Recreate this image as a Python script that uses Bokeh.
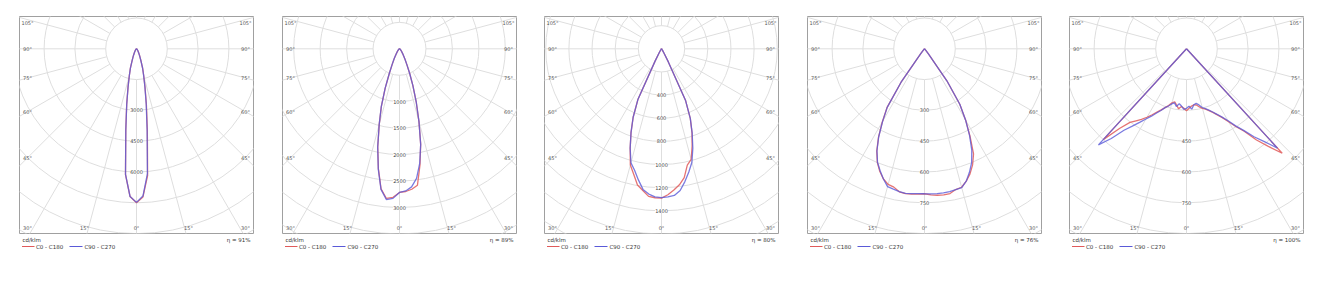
import numpy as np
from bokeh.plotting import figure
from bokeh.layouts import row, column
from bokeh.models import Range1d
from bokeh.embed import file_html
from bokeh.resources import INLINE
from bokeh.core.properties import value

# ---------------- data ----------------
gamma = [0, 2.5, 5, 7.5, 10, 12.5, 15, 17.5, 20, 22.5, 25, 27.5, 30, 32.5, 35, 37.5, 40, 42.5,
         45, 47.5, 50, 52.5, 55, 57.5, 60, 62.5, 65, 67.5, 70, 72.5, 75, 77.5, 80, 82.5, 85, 87.5, 90]

# panel 1
p1_c0 = [7500, 7220, 6200, 4050, 2780, 1920, 1360, 1000, 660, 460, 335, 245, 185, 145, 115, 92, 75, 62,
         52, 44, 37, 31, 26, 22, 19, 16, 13, 11, 9, 7, 6, 5, 4, 3, 2, 1, 0]
p1_c180 = [7500, 7200, 6150, 4000, 2750, 1900, 1350, 990, 650, 455, 330, 242, 182, 143, 113, 91, 74, 61,
           52, 44, 37, 31, 26, 22, 19, 16, 13, 11, 9, 7, 6, 5, 4, 3, 2, 1, 0]
p1_c90 = [7480, 7180, 6100, 3960, 2720, 1880, 1340, 980, 645, 450, 328, 240, 180, 142, 112, 90, 73, 60,
          51, 43, 36, 30, 25, 21, 18, 15, 12, 10, 8, 7, 6, 5, 4, 3, 2, 1, 0]
p1_c270 = [7480, 7200, 6140, 3990, 2740, 1890, 1345, 985, 648, 452, 330, 241, 181, 142, 112, 90, 73, 60,
           51, 43, 36, 30, 25, 21, 18, 15, 12, 10, 8, 7, 6, 5, 4, 3, 2, 1, 0]

# panel 2
p2_c0 = [2716, 2700, 2665, 2600, 2230, 1850, 1420, 1050, 740, 500, 330, 230, 160, 118, 88, 68, 53, 42,
         34, 28, 23, 19, 16, 13, 11, 9, 8, 7, 6, 5, 4, 3, 3, 2, 1, 1, 0]
p2_c180 = [2716, 2810, 2840, 2670, 2300, 1900, 1480, 1140, 790, 500, 330, 230, 160, 118, 88, 68, 53, 42,
           34, 28, 23, 19, 16, 13, 11, 9, 8, 7, 6, 5, 4, 3, 3, 2, 1, 1, 0]
p2_c90 = [2716, 2690, 2620, 2470, 2200, 1850, 1420, 1050, 740, 500, 330, 232, 162, 119, 89, 69, 54, 43,
          35, 29, 24, 20, 16, 13, 11, 9, 8, 7, 6, 5, 4, 3, 3, 2, 1, 1, 0]
p2_c270 = [2716, 2830, 2860, 2680, 2310, 1905, 1485, 1145, 795, 505, 335, 235, 165, 120, 90, 70, 55, 44,
           35, 29, 24, 20, 16, 13, 11, 9, 8, 7, 6, 5, 4, 3, 3, 2, 1, 1, 0]

# panel 3
p3_c0 = [1290, 1262, 1225, 1185, 1130, 1030, 990, 880, 770, 650, 490, 130, 42, 21, 12, 8, 6, 5,
         4, 3, 3, 2, 2, 2, 1, 1, 1, 1, 1, 0, 0, 0, 0, 0, 0, 0, 0]
p3_c180 = [1290, 1288, 1280, 1235, 1195, 1110, 1040, 900, 770, 640, 480, 120, 40, 20, 12, 8, 6, 5,
           4, 3, 3, 2, 2, 2, 1, 1, 1, 1, 1, 0, 0, 0, 0, 0, 0, 0, 0]
p3_c90 = [1285, 1280, 1272, 1235, 1165, 1090, 1015, 900, 775, 650, 490, 130, 42, 21, 12, 8, 6, 5,
          4, 3, 3, 2, 2, 2, 1, 1, 1, 1, 1, 0, 0, 0, 0, 0, 0, 0, 0]
p3_c270 = [1285, 1280, 1260, 1225, 1150, 1075, 1020, 900, 770, 640, 480, 120, 40, 20, 12, 8, 6, 5,
           4, 3, 3, 2, 2, 2, 1, 1, 1, 1, 1, 0, 0, 0, 0, 0, 0, 0, 0]

# panel 4
p4_c0 = [706, 712, 716, 718, 716, 702, 698, 676, 648, 612, 565, 480, 400, 320, 190, 30, 10, 5,
         3, 2, 1, 1, 1, 0, 0, 0, 0, 0, 0, 0, 0, 0, 0, 0, 0, 0, 0]
p4_c180 = [706, 708, 710, 711, 707, 690, 684, 665, 636, 600, 550, 485, 410, 340, 200, 30, 10, 5,
           3, 2, 1, 1, 1, 0, 0, 0, 0, 0, 0, 0, 0, 0, 0, 0, 0, 0, 0]
p4_c90 = [706, 707, 708, 708, 706, 703, 700, 676, 640, 600, 545, 475, 400, 320, 190, 30, 10, 5,
          3, 2, 1, 1, 1, 0, 0, 0, 0, 0, 0, 0, 0, 0, 0, 0, 0, 0, 0]
p4_c270 = [706, 706, 708, 710, 706, 700, 695, 665, 632, 598, 548, 483, 408, 338, 200, 30, 10, 5,
           3, 2, 1, 1, 1, 0, 0, 0, 0, 0, 0, 0, 0, 0, 0, 0, 0, 0, 0]

# panel 5
p5_c0 = [302, 290, 280, 275, 278, 290, 300, 308, 320, 335, 355, 378, 410, 450, 490, 560, 620, 690,
         0, 0, 0, 0, 0, 0, 0, 0, 0, 0, 0, 0, 0, 0, 0, 0, 0, 0, 0]
p5_c180 = [302, 290, 282, 295, 278, 265, 272, 290, 305, 322, 340, 362, 385, 408, 428, 452, 505, 600,
           0, 0, 0, 0, 0, 0, 0, 0, 0, 0, 0, 0, 0, 0, 0, 0, 0, 0, 0]
p5_c90 = [290, 280, 295, 275, 270, 280, 296, 306, 318, 333, 352, 375, 405, 445, 485, 540, 590, 656,
          0, 0, 0, 0, 0, 0, 0, 0, 0, 0, 0, 0, 0, 0, 0, 0, 0, 0, 0]
p5_c270 = [290, 295, 280, 270, 285, 270, 278, 292, 305, 325, 345, 370, 395, 425, 460, 500, 570, 635,
           0, 0, 0, 0, 0, 0, 0, 0, 0, 0, 0, 0, 0, 0, 0, 0, 0, 0, 0]

series = [
    (p1_c0, p1_c180, p1_c90, p1_c270),
    (p2_c0, p2_c180, p2_c90, p2_c270),
    (p3_c0, p3_c180, p3_c90, p3_c270),
    (p4_c0, p4_c180, p4_c90, p4_c270),
    (p5_c0, p5_c180, p5_c90, p5_c270),
]
ring_steps = [1500, 500, 200, 150, 150]
ring_labels = [
    [3000, 4500, 6000],
    [1000, 1500, 2000, 2500, 3000],
    [400, 600, 800, 1000, 1200, 1400],
    [300, 450, 600, 750],
    [450, 600, 750],
]
eta_labels = ["η = 91%", "η = 89%", "η = 80%", "η = 76%", "η = 100%"]
unit_label = "cd/klm"
legend_labels = ["C0 - C180", "C90 - C270"]
side_angles = [45, 60, 75, 90, 105]
bottom_angles = [0, 15, 30]

for s in series:
    for arr in s:
        assert len(arr) == len(gamma)

# ---------------- style / layout ----------------
ring_px = [30.8, 26.45, 23.15, 30.8, 30.8]   # pixels per ring step
fig_widths = [263, 262, 263, 262, 263]
FRAME_W, FRAME_H = 234, 217
LEFT, TOP = 19, 16
CY = 32.3                      # pole below frame top (px)
POLAR_H = TOP + FRAME_H + 1
LEG_H = 283 - POLAR_H
RED = "#e05a5a"
BLUE = "#5a5ad8"
GRID = "#dedede"
FONT = value("DejaVu Sans")

g = np.radians(np.array(gamma, dtype=float))


def curve(right, left):
    r = np.array(right, dtype=float)
    l = np.array(left, dtype=float)
    xl = -l[::-1] * np.sin(g[::-1])
    yl = -l[::-1] * np.cos(g[::-1])
    xr = r[1:] * np.sin(g[1:])
    yr = -r[1:] * np.cos(g[1:])
    return np.concatenate([xl, xr]), np.concatenate([yl, yr])


columns = []
for i in range(5):
    c0, c180, c90, c270 = series[i]
    step = ring_steps[i]
    k = ring_px[i] / step          # px per cd/klm
    w = fig_widths[i]
    half = FRAME_W / 2
    p = figure(width=w, height=POLAR_H, output_backend="svg", toolbar_location=None,
               x_axis_type=None, y_axis_type=None,
               x_range=Range1d(-half / k, half / k),
               y_range=Range1d(-(FRAME_H - CY) / k, CY / k),
               min_border_left=LEFT, min_border_right=w - LEFT - FRAME_W,
               min_border_top=TOP, min_border_bottom=1)
    p.outline_line_color = "#a0a0a0"
    p.outline_line_width = 1
    p.background_fill_color = "white"
    p.border_fill_color = "white"

    # rings
    radii = [step * n for n in range(1, 10)]
    p.circle(x=[0] * len(radii), y=[0] * len(radii), radius=radii,
             fill_color=None, line_color=GRID, line_width=1)
    # spokes
    xs, ys = [], []
    for a in range(0, 360, 15):
        ar = np.radians(a)
        xs.append([step * np.sin(ar), 10 * step * np.sin(ar)])
        ys.append([-step * np.cos(ar), -10 * step * np.cos(ar)])
    p.multi_line(xs, ys, line_color=GRID, line_width=1)

    # ring value labels along the 0° axis
    labs = ring_labels[i]
    p.text(x=[0] * len(labs), y=[-v for v in labs], text=[str(v) for v in labs],
           text_font=FONT, text_font_size="5px", text_color="#444444",
           text_align="center", text_baseline="middle",
           background_fill_color="white")

    # angle labels
    ax, ay, at = [], [], []
    dxp = half - 8
    for a in side_angles:
        yp = -dxp / np.tan(np.radians(a)) if a != 90 else 0.0
        yp = min(yp, CY - 6.5)
        for sgn in (-1, 1):
            ax.append(sgn * dxp / k)
            ay.append(yp / k)
            at.append(f"{a}°")
    yb = -(FRAME_H - CY - 5.3)
    for a in bottom_angles:
        if a == 0:
            ax.append(0.0); ay.append(yb / k); at.append("0°")
        else:
            xp = min((FRAME_H - CY) * np.tan(np.radians(a)) + 2.5, dxp)
            for sgn in (-1, 1):
                ax.append(sgn * xp / k); ay.append(yb / k); at.append(f"{a}°")
    p.text(x=ax, y=ay, text=at, text_font=FONT, text_font_size="5px", text_color="#555555",
           text_align="center", text_baseline="middle")

    # curves
    rx, ry = curve(c0, c180)
    bx, by = curve(c90, c270)
    p.line(rx, ry, line_color=RED, line_width=1.3, line_alpha=0.85)
    p.line(bx, by, line_color=BLUE, line_width=1.3, line_alpha=0.8)

    # legend strip (frame aligned with the polar frame above; x in px from box left)
    q = figure(width=w, height=LEG_H, output_backend="svg", toolbar_location=None,
               x_axis_type=None, y_axis_type=None,
               x_range=Range1d(0, FRAME_W), y_range=Range1d(LEG_H, 0),
               min_border_left=LEFT, min_border_right=w - LEFT - FRAME_W,
               min_border_top=0, min_border_bottom=0)
    q.outline_line_color = None
    q.background_fill_color = "white"
    q.border_fill_color = "white"
    q.text(x=[3], y=[5.5], text=[unit_label], text_font=FONT, text_font_size="5.5px",
           text_color="#333333", text_align="left", text_baseline="middle")
    q.text(x=[FRAME_W - 3], y=[5.5], text=[eta_labels[i]], text_font=FONT, text_font_size="5.5px",
           text_color="#333333", text_align="right", text_baseline="middle")
    q.segment(x0=[2.5, 50], y0=[12, 12], x1=[15, 63], y1=[12, 12],
              line_color=[RED, BLUE], line_width=1.2)
    q.text(x=[16.5, 65], y=[12, 12], text=legend_labels, text_font=FONT,
           text_font_size="5.5px", text_color="#333333", text_align="left", text_baseline="middle")
    columns.append(column(p, q, spacing=0))

layout = row(*columns, spacing=0)
open("out.html", "w").write(file_html(layout, INLINE))
